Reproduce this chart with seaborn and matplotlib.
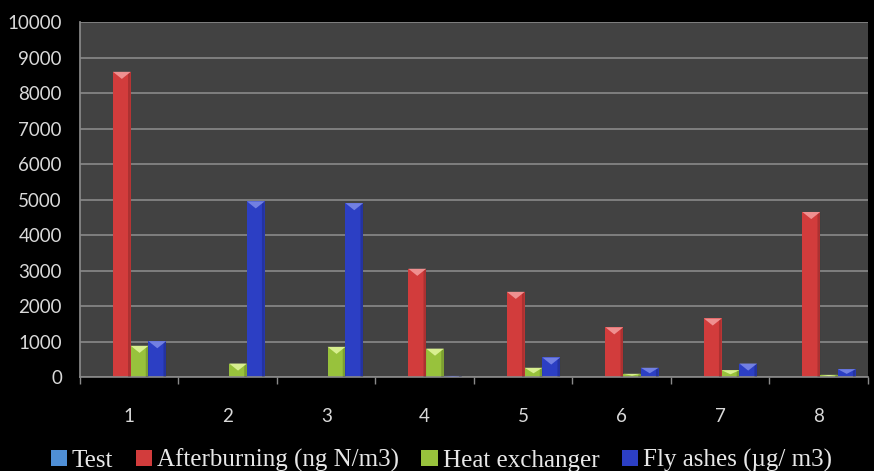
import matplotlib
matplotlib.use("Agg")
import matplotlib.pyplot as plt
from matplotlib.patches import Patch, Polygon
import numpy as np
import pandas as pd
import seaborn as sns

# Sampling campaign numbers and measured concentrations per location
tests = ["1", "2", "3", "4", "5", "6", "7", "8"]
test_vals = [0, 0, 0, 0, 0, 0, 0, 0]
afterburning = [8600, 0, 0, 3050, 2400, 1400, 1650, 4650]
heat_exchanger = [880, 380, 850, 800, 260, 90, 190, 60]
fly_ashes = [1010, 4950, 4900, 30, 550, 260, 380, 220]

series_names = ["Test", "Afterburning (ng N/m3)", "Heat exchanger", "Fly ashes (\u00b5g/ m3)"]
series_colors = ["#4f8fd6", "#d23c3c", "#98c23c", "#2c3fc4"]
highlight_colors = ["#8fbbe8", "#f39a9a", "#e0f59a", "#7a88e6"]

df = pd.DataFrame({
    "test": tests * 4,
    "value": test_vals + afterburning + heat_exchanger + fly_ashes,
    "series": [s for s in series_names for _ in tests],
})

sns.set_theme(style="dark")
plt.rcParams["font.family"] = ["Lato", "DejaVu Sans"]

fig = plt.figure(figsize=(8.74, 4.71), dpi=100, facecolor="black")
ax = fig.add_axes([0.0915, 0.1996, 0.9015, 0.7534])
ax.set_facecolor("#424242")

sns.barplot(data=df, x="test", y="value", hue="series", hue_order=series_names,
            palette=series_colors, width=0.72, saturation=1, legend=False,
            linewidth=0, ax=ax)

# Bevelled highlight on top of each bar, darker shading on its right side
n = len(tests)
for idx, p in enumerate(ax.patches):
    h = p.get_height()
    if h <= 0:
        continue
    si = idx // n
    p.set_x(p.get_x() + 0.015)
    x0 = p.get_x()
    w = p.get_width()
    depth = min(200, h * 0.6)
    ax.add_patch(Polygon([[x0 + w * 0.85, 0], [x0 + w, 0], [x0 + w, h], [x0 + w * 0.85, h - depth * 0.3]],
                         closed=True, facecolor="black", alpha=0.18, edgecolor="none", zorder=3))
    ax.add_patch(Polygon([[x0, h], [x0 + w, h], [x0 + w / 2, h - depth]], closed=True,
                         facecolor=highlight_colors[si], edgecolor="none", alpha=0.9, zorder=3))

ax.set_ylim(0, 10000)
ax.set_xlim(-0.5, n - 0.5)
ax.set_yticks(np.arange(0, 10001, 1000))
ax.grid(axis="y", color="#8a8a8a", linewidth=1.2)
ax.grid(axis="x", visible=False)
ax.set_axisbelow(True)
ax.set_xlabel("")
ax.set_ylabel("")

for side in ["top", "right"]:
    ax.spines[side].set_visible(False)
ax.spines["left"].set_color("#8a8a8a")
ax.spines["bottom"].set_color("#8a8a8a")
ax.spines["bottom"].set_linewidth(1.2)

ax.set_xticks(np.arange(-0.5, n, 1.0), minor=True)
ax.tick_params(axis="x", which="minor", length=5, color="#8a8a8a", width=1.0, direction="out", bottom=True)
ax.tick_params(axis="x", which="major", length=0, pad=22, labelsize=13.5, labelcolor="#d9d9d9")
ax.tick_params(axis="y", length=0, pad=13, labelsize=13.5, labelcolor="#d9d9d9")

handles = [Patch(facecolor=c, edgecolor="none") for c in series_colors]
leg = fig.legend(handles, series_names, loc="lower center", bbox_to_anchor=(0.505, -0.05),
                 ncol=4, frameon=False, handlelength=0.65, handleheight=0.65,
                 handletextpad=0.2, columnspacing=0.9,
                 prop={"family": ["Liberation Serif", "DejaVu Serif"], "size": 18})
for t in leg.get_texts():
    t.set_color("#e8e8e8")

fig.savefig("out.png", dpi=100, facecolor="black")
